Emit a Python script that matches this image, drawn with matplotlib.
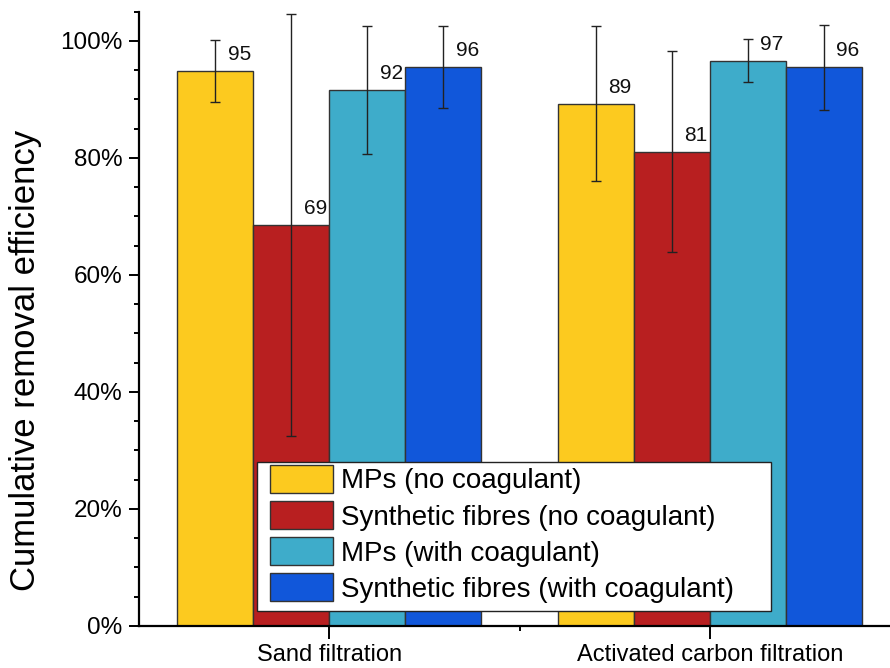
import matplotlib
matplotlib.use('Agg')
import matplotlib.pyplot as plt
import numpy as np
from matplotlib.ticker import MultipleLocator, FixedLocator
from matplotlib.patches import Rectangle

plt.rcParams['font.family'] = ['Liberation Sans', 'DejaVu Sans']

# data
groups = ['Sand filtration', 'Activated carbon filtration']
series = ['MPs (no coagulant)', 'Synthetic fibres (no coagulant)',
          'MPs (with coagulant)', 'Synthetic fibres (with coagulant)']
colors = ['#FCCA1F', '#B81F20', '#3EACCA', '#1157DA']

mps_no = [94.9, 89.3]
fib_no = [68.5, 81.1]
mps_co = [91.6, 96.6]
fib_co = [95.6, 95.5]
values = [mps_no, fib_no, mps_co, fib_co]

err_mps_no = [5.3, 13.3]
err_fib_no = [36.1, 17.2]
err_mps_co = [11.0, 3.7]
err_fib_co = [7.0, 7.3]
errors = [err_mps_no, err_fib_no, err_mps_co, err_fib_co]

labels_mps_no = ['95', '89']
labels_fib_no = ['69', '81']
labels_mps_co = ['92', '97']
labels_fib_co = ['96', '96']
bar_labels = [labels_mps_no, labels_fib_no, labels_mps_co, labels_fib_co]

# figure
fig = plt.figure(figsize=(8.9, 6.68), dpi=100)
ax = fig.add_axes([139/890, 42/668, 761/890, 614.3/668])

x = np.arange(1, len(groups) + 1)
w = 0.2
for i in range(len(series)):
    xi = x + (i - 1.5) * w
    ax.bar(xi, values[i], w, color=colors[i], edgecolor='#333333',
           linewidth=1.0, label=series[i], zorder=2)
    ax.errorbar(xi, values[i], yerr=errors[i], fmt='none', ecolor='#222222',
                elinewidth=1.0, capsize=3.5, capthick=1.0, zorder=3)
    for xx, yy, s in zip(xi, values[i], bar_labels[i]):
        ax.annotate(s, (xx, yy), xytext=(9, 5), textcoords='offset points',
                    ha='left', va='bottom', fontsize=15, color='#111111',
                    zorder=4)

# axes
ax.set_xlim(0.5, 2.5)
ax.set_ylim(0, 105)
ax.set_xticks(x)
ax.set_xticklabels(groups, fontsize=17)
ax.xaxis.set_minor_locator(FixedLocator([1.5]))
ax.yaxis.set_minor_locator(MultipleLocator(5))
ax.set_yticks([0, 20, 40, 60, 80, 100])
ax.set_yticklabels(['0%', '20%', '40%', '60%', '80%', '100%'], fontsize=17.5)

for side in ['top', 'right']:
    ax.spines[side].set_visible(False)
for side in ['left', 'bottom']:
    ax.spines[side].set_linewidth(1.6)

ax.tick_params(axis='y', which='major', length=7, width=1.4, pad=5)
ax.tick_params(axis='y', which='minor', length=3.5, width=1.4)
ax.tick_params(axis='x', which='major', length=9, width=1.4, pad=4)
ax.tick_params(axis='x', which='minor', length=3.5, width=1.4)

ax.set_ylabel('Cumulative removal efficiency', fontsize=25)
ax.yaxis.set_label_coords(-0.127, 0.433)

# legend: white box drawn separately, entries placed inside it
box = Rectangle((0.1551, 0.0244), 0.6754, 0.2426, transform=ax.transAxes,
                facecolor='white', edgecolor='#222222', linewidth=1.0,
                zorder=5)
ax.add_patch(box)
leg = ax.legend(loc='upper left', bbox_to_anchor=(0.1721, 0.2621),
                borderaxespad=0, borderpad=0, fontsize=20, frameon=False,
                handlelength=2.27, handleheight=1.18, handletextpad=0.3,
                labelspacing=0.24)
leg.set_zorder(6)

fig.savefig('out.png', dpi=100)
plt.close()
